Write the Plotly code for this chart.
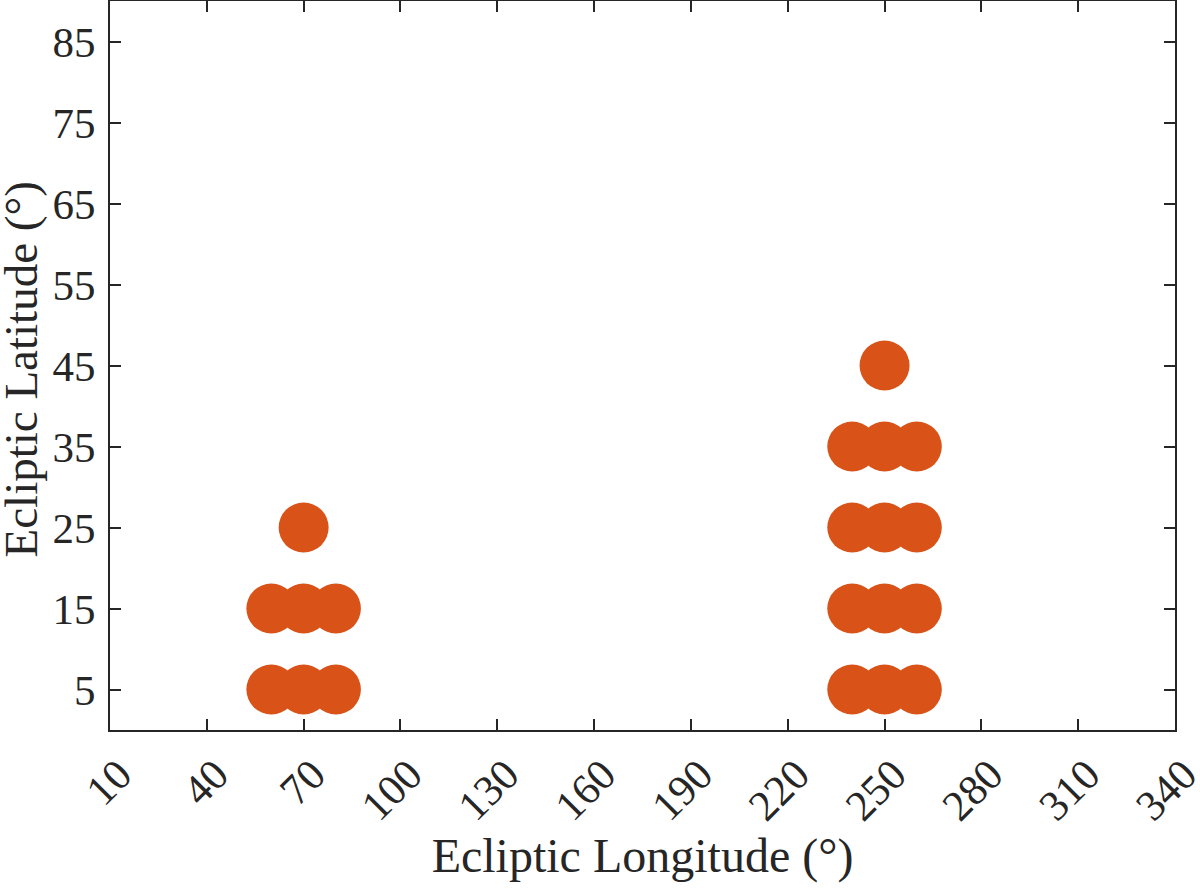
import plotly.graph_objects as go

lon = [60, 70, 80, 60, 70, 80, 70,
       240, 250, 260, 240, 250, 260, 240, 250, 260, 240, 250, 260, 250]
lat = [5, 5, 5, 15, 15, 15, 25,
       5, 5, 5, 15, 15, 15, 25, 25, 25, 35, 35, 35, 45]
xticks = [10, 40, 70, 100, 130, 160, 190, 220, 250, 280, 310, 340]
yticks = [5, 15, 25, 35, 45, 55, 65, 75, 85]

fig = go.Figure(go.Scatter(
    x=lon, y=lat, mode="markers",
    marker=dict(size=50, color="#D95319", line=dict(width=0)),
    hoverinfo="skip"))

font = "Liberation Serif, Times New Roman, serif"
axcol = "#262626"
fig.update_layout(
    width=1200, height=888,
    margin=dict(l=110, r=25, t=1, b=158, autoexpand=False),
    paper_bgcolor="white", plot_bgcolor="white",
    showlegend=False,
    font=dict(family=font, size=43, color=axcol),
)
fig.update_xaxes(
    range=[10, 340], tickvals=xticks, ticktext=[str(v) for v in xticks],
    tickangle=-45, ticks="inside", ticklen=11, tickwidth=2, tickcolor=axcol,
    ticklabelshift=9, ticklabeloverflow="allow",
    showline=True, linewidth=2, linecolor=axcol, mirror="ticks",
    showgrid=False, zeroline=False, automargin=True,
    tickfont=dict(family=font, size=43, color=axcol),
    title=dict(text="Ecliptic Longitude (°)", font=dict(family=font, size=48, color=axcol), standoff=8),
)
fig.update_yaxes(
    range=[0, 90], tickvals=yticks, ticktext=[str(v) for v in yticks],
    ticks="inside", ticklen=11, tickwidth=2, tickcolor=axcol,
    ticklabelstandoff=4,
    showline=True, linewidth=2, linecolor=axcol, mirror="ticks",
    showgrid=False, zeroline=False, automargin=False,
    tickfont=dict(family=font, size=43, color=axcol),
)
fig.add_annotation(
    text="Ecliptic Latitude (°)", textangle=-90, showarrow=False,
    xref="paper", yref="paper", x=0, y=0.5, xanchor="center", yanchor="middle",
    xshift=-90, yshift=-4, borderpad=0,
    font=dict(family=font, size=47, color=axcol),
)
fig.write_html("out.html", config={"displayModeBar": False},
               post_script="document.body.style.margin='0';document.body.style.padding='0';")
